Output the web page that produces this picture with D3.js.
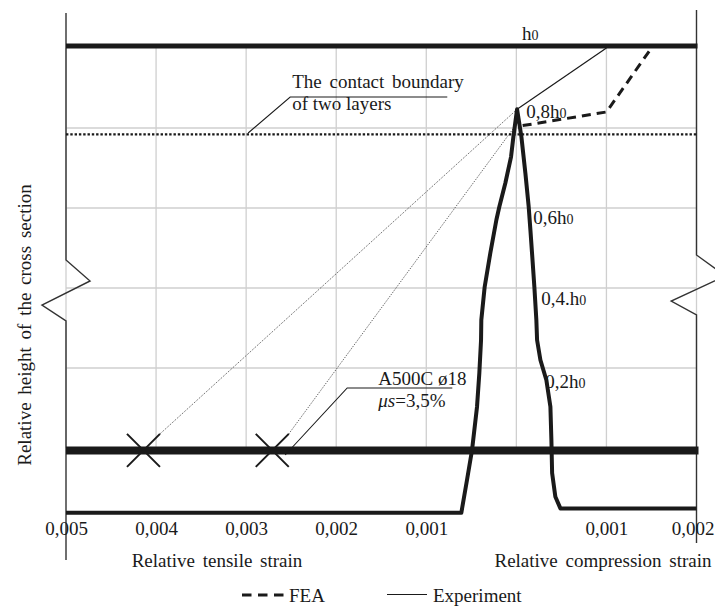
<!DOCTYPE html>
<html>
<head>
<meta charset="utf-8">
<script src="https://cdn.jsdelivr.net/npm/d3@7"></script>
<style>
  body { margin: 0; background: #fff; }
  text { font-family: "Liberation Serif", "Times New Roman", serif; fill: #1a1a1a; font-size: 19px; }
</style>
</head>
<body>
<svg id="chart" width="715" height="608"></svg>
<script>
// Strain axis: tension is negative (left), compression positive (right)
const strainTicks = [-0.005, -0.004, -0.003, -0.002, -0.001, 0.001, 0.002];
const strainGrid = [-0.005, -0.004, -0.003, -0.002, -0.001, 0, 0.001, 0.002];
const heightGrid = [0.2, 0.4, 0.6, 0.8];

// Relative height levels annotated along the profile
const levelValues = [0.8, 0.6, 0.4, 0.2];
const levelText = ["0,8h", "0,6h", "0,4.h", "0,2h"];

// Experimental strain profile through the section (strain, relative height)
const profileStrain = [-0.005, -0.000611, -0.000548, -0.000492, -0.000437, -0.000411, -0.000392, -0.000389,
  -0.000352, -0.000289, -0.000222, -0.000189, -0.000122, -0.000059, -0.000033, 0.000008,
  0.000056, 0.0001, 0.000137, 0.000156, 0.000174, 0.0002, 0.000222, 0.00023, 0.000267,
  0.000333, 0.000378, 0.000389, 0.000397, 0.000433, 0.000489, 0.002];
const profileHeight = [-0.162, -0.162, -0.08, -0.005, 0.1025, 0.1875, 0.27, 0.32,
  0.4025, 0.4875, 0.57, 0.603, 0.6625, 0.728, 0.778, 0.847,
  0.778, 0.6875, 0.603, 0.545, 0.4875, 0.4025, 0.32, 0.27, 0.22,
  0.17, 0.103, 0.02, -0.0625, -0.122, -0.151, -0.151];

// Experiment: strain from the peak up to the top fibre
const experimentStrain = [0.000008, 0.001];
const experimentHeight = [0.847, 1.0];

// FEA: strain in the upper layer
const feaStrain = [0.00007, 0.001, 0.0015];
const feaHeight = [0.806, 0.84, 1.0];

// Reinforcement strains (A500C ø18)
const rebarStrain = [-0.00414, -0.00271];
const rebarHeight = -0.006;
// points each rebar strain is projected to
const rebarTargetStrain = [0.0, -0.00003];
const rebarTargetHeight = [0.845, 0.80];

const sectionTop = 1.005;
const contactBoundary = 0.784;

const svg = d3.select("#chart");
const x = d3.scaleLinear().domain([-0.005, 0.002]).range([66, 696.5]);
const y = d3.scaleLinear().domain([0, 1]).range([448, 48]);
const line = d3.line().x(d => x(d[0])).y(d => y(d[1]));
const ink = "#1a1a1a";

// grid
const grid = svg.append("g").attr("stroke", "#cfcfcf").attr("stroke-width", 1.3);
grid.selectAll("line.v").data(strainGrid).join("line")
  .attr("x1", d => x(d)).attr("x2", d => x(d))
  .attr("y1", y(0)).attr("y2", y(1));
grid.selectAll("line.h").data(heightGrid).join("line")
  .attr("x1", x(-0.005)).attr("x2", x(0.002))
  .attr("y1", d => y(d)).attr("y2", d => y(d));

// vertical axes with break marks
const leftAxis = [[-0.005, 1.0875], [-0.005, 0.47], [-0.004733, 0.4175], [-0.005267, 0.3575], [-0.005, 0.3175], [-0.005, -0.28]];
const rightAxis = [[0.002, 1.095], [0.002, 0.4825], [0.002322, 0.43], [0.001719, 0.3675], [0.002, 0.3325], [0.002, -0.2375]];
[leftAxis, rightAxis].forEach(pts => svg.append("path").attr("d", line(pts))
  .attr("fill", "none").attr("stroke", "#333").attr("stroke-width", 1.4));

// contact boundary of two layers
svg.append("line")
  .attr("x1", x(-0.005)).attr("x2", x(0.002) + 1)
  .attr("y1", y(contactBoundary)).attr("y2", y(contactBoundary))
  .attr("stroke", ink).attr("stroke-width", 2.4).attr("stroke-dasharray", "2.4,1.9");

// top of section h0
svg.append("line")
  .attr("x1", x(-0.005)).attr("x2", x(0.002) + 1)
  .attr("y1", y(sectionTop)).attr("y2", y(sectionTop))
  .attr("stroke", ink).attr("stroke-width", 5);

// reinforcement level
svg.append("line")
  .attr("x1", x(-0.005)).attr("x2", x(0.002) + 2)
  .attr("y1", y(rebarHeight)).attr("y2", y(rebarHeight))
  .attr("stroke", ink).attr("stroke-width", 8);

// projection lines from rebar strains
const xr = 16.5;
rebarStrain.forEach((s, i) => {
  svg.append("line")
    .attr("x1", x(s) + xr).attr("y1", y(rebarHeight) - xr)
    .attr("x2", x(rebarTargetStrain[i])).attr("y2", y(rebarTargetHeight[i]))
    .attr("stroke", "#333").attr("stroke-width", 0.9).attr("stroke-dasharray", "1,1.3");
});

// rebar strain markers
svg.selectAll("path.cross").data(rebarStrain).join("path")
  .attr("d", s => {
    const cx = x(s), cy = y(rebarHeight);
    return `M${cx - xr},${cy - xr}L${cx + xr},${cy + xr}M${cx - xr},${cy + xr}L${cx + xr},${cy - xr}`;
  })
  .attr("stroke", ink).attr("stroke-width", 2).attr("fill", "none");

// experimental profile
svg.append("path")
  .attr("d", line(d3.zip(profileStrain, profileHeight)))
  .attr("fill", "none").attr("stroke", ink).attr("stroke-width", 4)
  .attr("stroke-linejoin", "round");

// experiment (thin)
svg.append("path")
  .attr("d", line(d3.zip(experimentStrain, experimentHeight)))
  .attr("fill", "none").attr("stroke", ink).attr("stroke-width", 1.2);

// FEA (dashed)
svg.append("path")
  .attr("d", line(d3.zip(feaStrain, feaHeight)))
  .attr("fill", "none").attr("stroke", ink).attr("stroke-width", 3)
  .attr("stroke-dasharray", "9,6");

// leaders
svg.append("path")
  .attr("d", line([[-0.002978, 0.7875], [-0.002511, 0.8775], [-0.000767, 0.8775]]))
  .attr("fill", "none").attr("stroke", ink).attr("stroke-width", 1.1);
svg.append("path")
  .attr("d", line([[-0.002567, -0.0175], [-0.001878, 0.15], [-0.000711, 0.15]]))
  .attr("fill", "none").attr("stroke", ink).attr("stroke-width", 1.1);

// strain tick labels
const xAxis = d3.axisBottom(x).tickValues(strainTicks)
  .tickFormat(d => Math.abs(d).toFixed(3).replace(".", ","))
  .tickSize(0).tickPadding(0);
const axisG = svg.append("g").attr("transform", "translate(0,535)").call(xAxis);
axisG.select(".domain").remove();
axisG.selectAll("text")
  .attr("dy", 0).attr("y", 0)
  .attr("dx", (d, i) => i === strainTicks.length - 1 ? -4 : 0)
  .style("font-size", "19px").style("font-family", "'Liberation Serif', serif").attr("fill", ink);

// helper for h0-style labels
function hLabel(g, main, px, py, anchor) {
  const t = g.append("text").attr("x", px).attr("y", py).attr("text-anchor", anchor || "start");
  t.append("tspan").text(main);
  t.append("tspan").style("font-size", "14px").text("0");
  return t;
}

hLabel(svg, "h", x(0.000155), y(1.02), "middle");

const levelDx = [10, 17, 25, 29];
const levelDy = [-10, 16, 17, 20];
levelValues.forEach((v, i) => hLabel(svg, levelText[i], x(0) + levelDx[i], y(v) + levelDy[i]));

// annotations
svg.append("text").attr("x", x(-0.002489)).attr("y", y(0.899))
  .style("word-spacing", "3px").text("The contact boundary");
svg.append("text").attr("x", x(-0.002489)).attr("y", y(0.845)).text("of two layers");

svg.append("text").attr("x", x(-0.001533)).attr("y", y(0.1575)).text("A500C ø18");
const mu = svg.append("text").attr("x", x(-0.001533)).attr("y", y(0.1025));
mu.append("tspan").style("font-style", "italic").text("μs");
mu.append("tspan").text("=3,5%");

// axis titles
svg.append("text").attr("x", 217).attr("y", 567).attr("text-anchor", "middle")
  .style("word-spacing", "3px").text("Relative tensile strain");
svg.append("text").attr("x", 603).attr("y", 567).attr("text-anchor", "middle")
  .style("word-spacing", "3px").text("Relative compression strain");
svg.append("text").attr("transform", "translate(31,325) rotate(-90)").attr("text-anchor", "middle")
  .style("word-spacing", "3px").text("Relative  height  of the  cross section");

// legend
const lg = svg.append("g");
lg.append("line").attr("x1", 242).attr("x2", 288).attr("y1", 595).attr("y2", 595)
  .attr("stroke", ink).attr("stroke-width", 3).attr("stroke-dasharray", "9.5,6.5");
lg.append("text").attr("x", 289).attr("y", 602).text("FEA");
lg.append("line").attr("x1", 387).attr("x2", 427).attr("y1", 594.5).attr("y2", 594.5)
  .attr("stroke", ink).attr("stroke-width", 1.2);
lg.append("text").attr("x", 433).attr("y", 602).text("Experiment");
</script>
</body>
</html>
